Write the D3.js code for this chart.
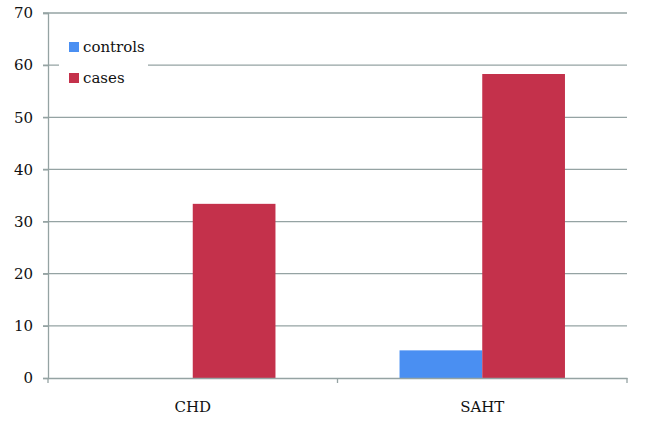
<!DOCTYPE html>
<html>
<head>
<meta charset="utf-8">
<script src="https://cdn.jsdelivr.net/npm/d3@7"></script>
<style>
  body { margin: 0; background: #fff; }
</style>
</head>
<body>
<svg></svg>
<script>
const categories = ["CHD", "SAHT"];
const seriesNames = ["controls", "cases"];
const controls = [0, 5.3];
const cases = [33.4, 58.3];
const yTicks = [0, 10, 20, 30, 40, 50, 60, 70];
const colors = ["#4a8ff2", "#c4314b"];

const W = 649, H = 426;
const margin = { top: 13, right: 22, bottom: 48, left: 48 };
const width = W - margin.left - margin.right;
const height = H - margin.top - margin.bottom;
const font = "'DejaVu Serif', serif";

const svg = d3.select("svg").attr("width", W).attr("height", H)
  .append("g").attr("transform", `translate(${margin.left},${margin.top})`);

const x = d3.scaleBand().domain(categories).range([0, width]);
const x1 = d3.scaleBand().domain(seriesNames).range([0, x.bandwidth()]).paddingInner(0).paddingOuter(0.75);
const y = d3.scaleLinear().domain([0, 70]).range([height, 0]);

const gridColor = "#95a3a3";

// gridlines
svg.selectAll(".grid").data(yTicks.filter(d => d > 0)).join("line")
  .attr("x1", -5).attr("x2", width)
  .attr("y1", d => y(d)).attr("y2", d => y(d))
  .attr("stroke", gridColor).attr("stroke-width", 1.3);

// y axis
const yAxis = svg.append("g").call(d3.axisLeft(y).tickValues(yTicks).tickSize(5).tickPadding(10));
yAxis.select(".domain").attr("stroke", gridColor).attr("stroke-width", 1.3);
yAxis.selectAll(".tick line").attr("stroke", gridColor).attr("stroke-width", 1.3);
yAxis.selectAll("text").attr("font-size", 15).attr("font-family", font).attr("fill", "#111");

// bars
const rows = categories.map((c, i) => ({ cat: c, vals: [controls[i], cases[i]] }));
const groups = svg.selectAll(".grp").data(rows).join("g")
  .attr("transform", d => `translate(${x(d.cat)},0)`);
groups.selectAll("rect").data(d => d.vals.map((v, j) => ({ s: seriesNames[j], v, j })))
  .join("rect")
  .attr("x", d => x1(d.s))
  .attr("width", x1.bandwidth())
  .attr("y", d => y(d.v))
  .attr("height", d => height - y(d.v))
  .attr("fill", d => colors[d.j]);

// x axis
const xAxis = svg.append("g").attr("transform", `translate(0,${height})`)
  .call(d3.axisBottom(x).tickSize(0).tickPadding(23));
xAxis.select(".domain").attr("stroke", gridColor).attr("stroke-width", 1.3);
xAxis.selectAll("text").attr("font-size", 15).attr("font-family", font).attr("fill", "#111");
svg.selectAll(".xtick").data([0, width / 2, width]).join("line")
  .attr("x1", d => d).attr("x2", d => d)
  .attr("y1", height).attr("y2", height + 5)
  .attr("stroke", gridColor).attr("stroke-width", 1.3);

// legend
const legend = svg.append("g").attr("transform", "translate(11,22)");
legend.append("rect").attr("x", 0).attr("y", 0).attr("width", 89).attr("height", 62).attr("fill", "#fff");
seriesNames.forEach((s, i) => {
  const g = legend.append("g").attr("transform", `translate(10,${7 + i * 31})`);
  g.append("rect").attr("width", 10).attr("height", 10).attr("fill", colors[i]);
  g.append("text").attr("x", 14).attr("y", 10)
    .attr("font-size", 15).attr("font-family", font).attr("fill", "#111").text(s);
});
</script>
</body>
</html>
